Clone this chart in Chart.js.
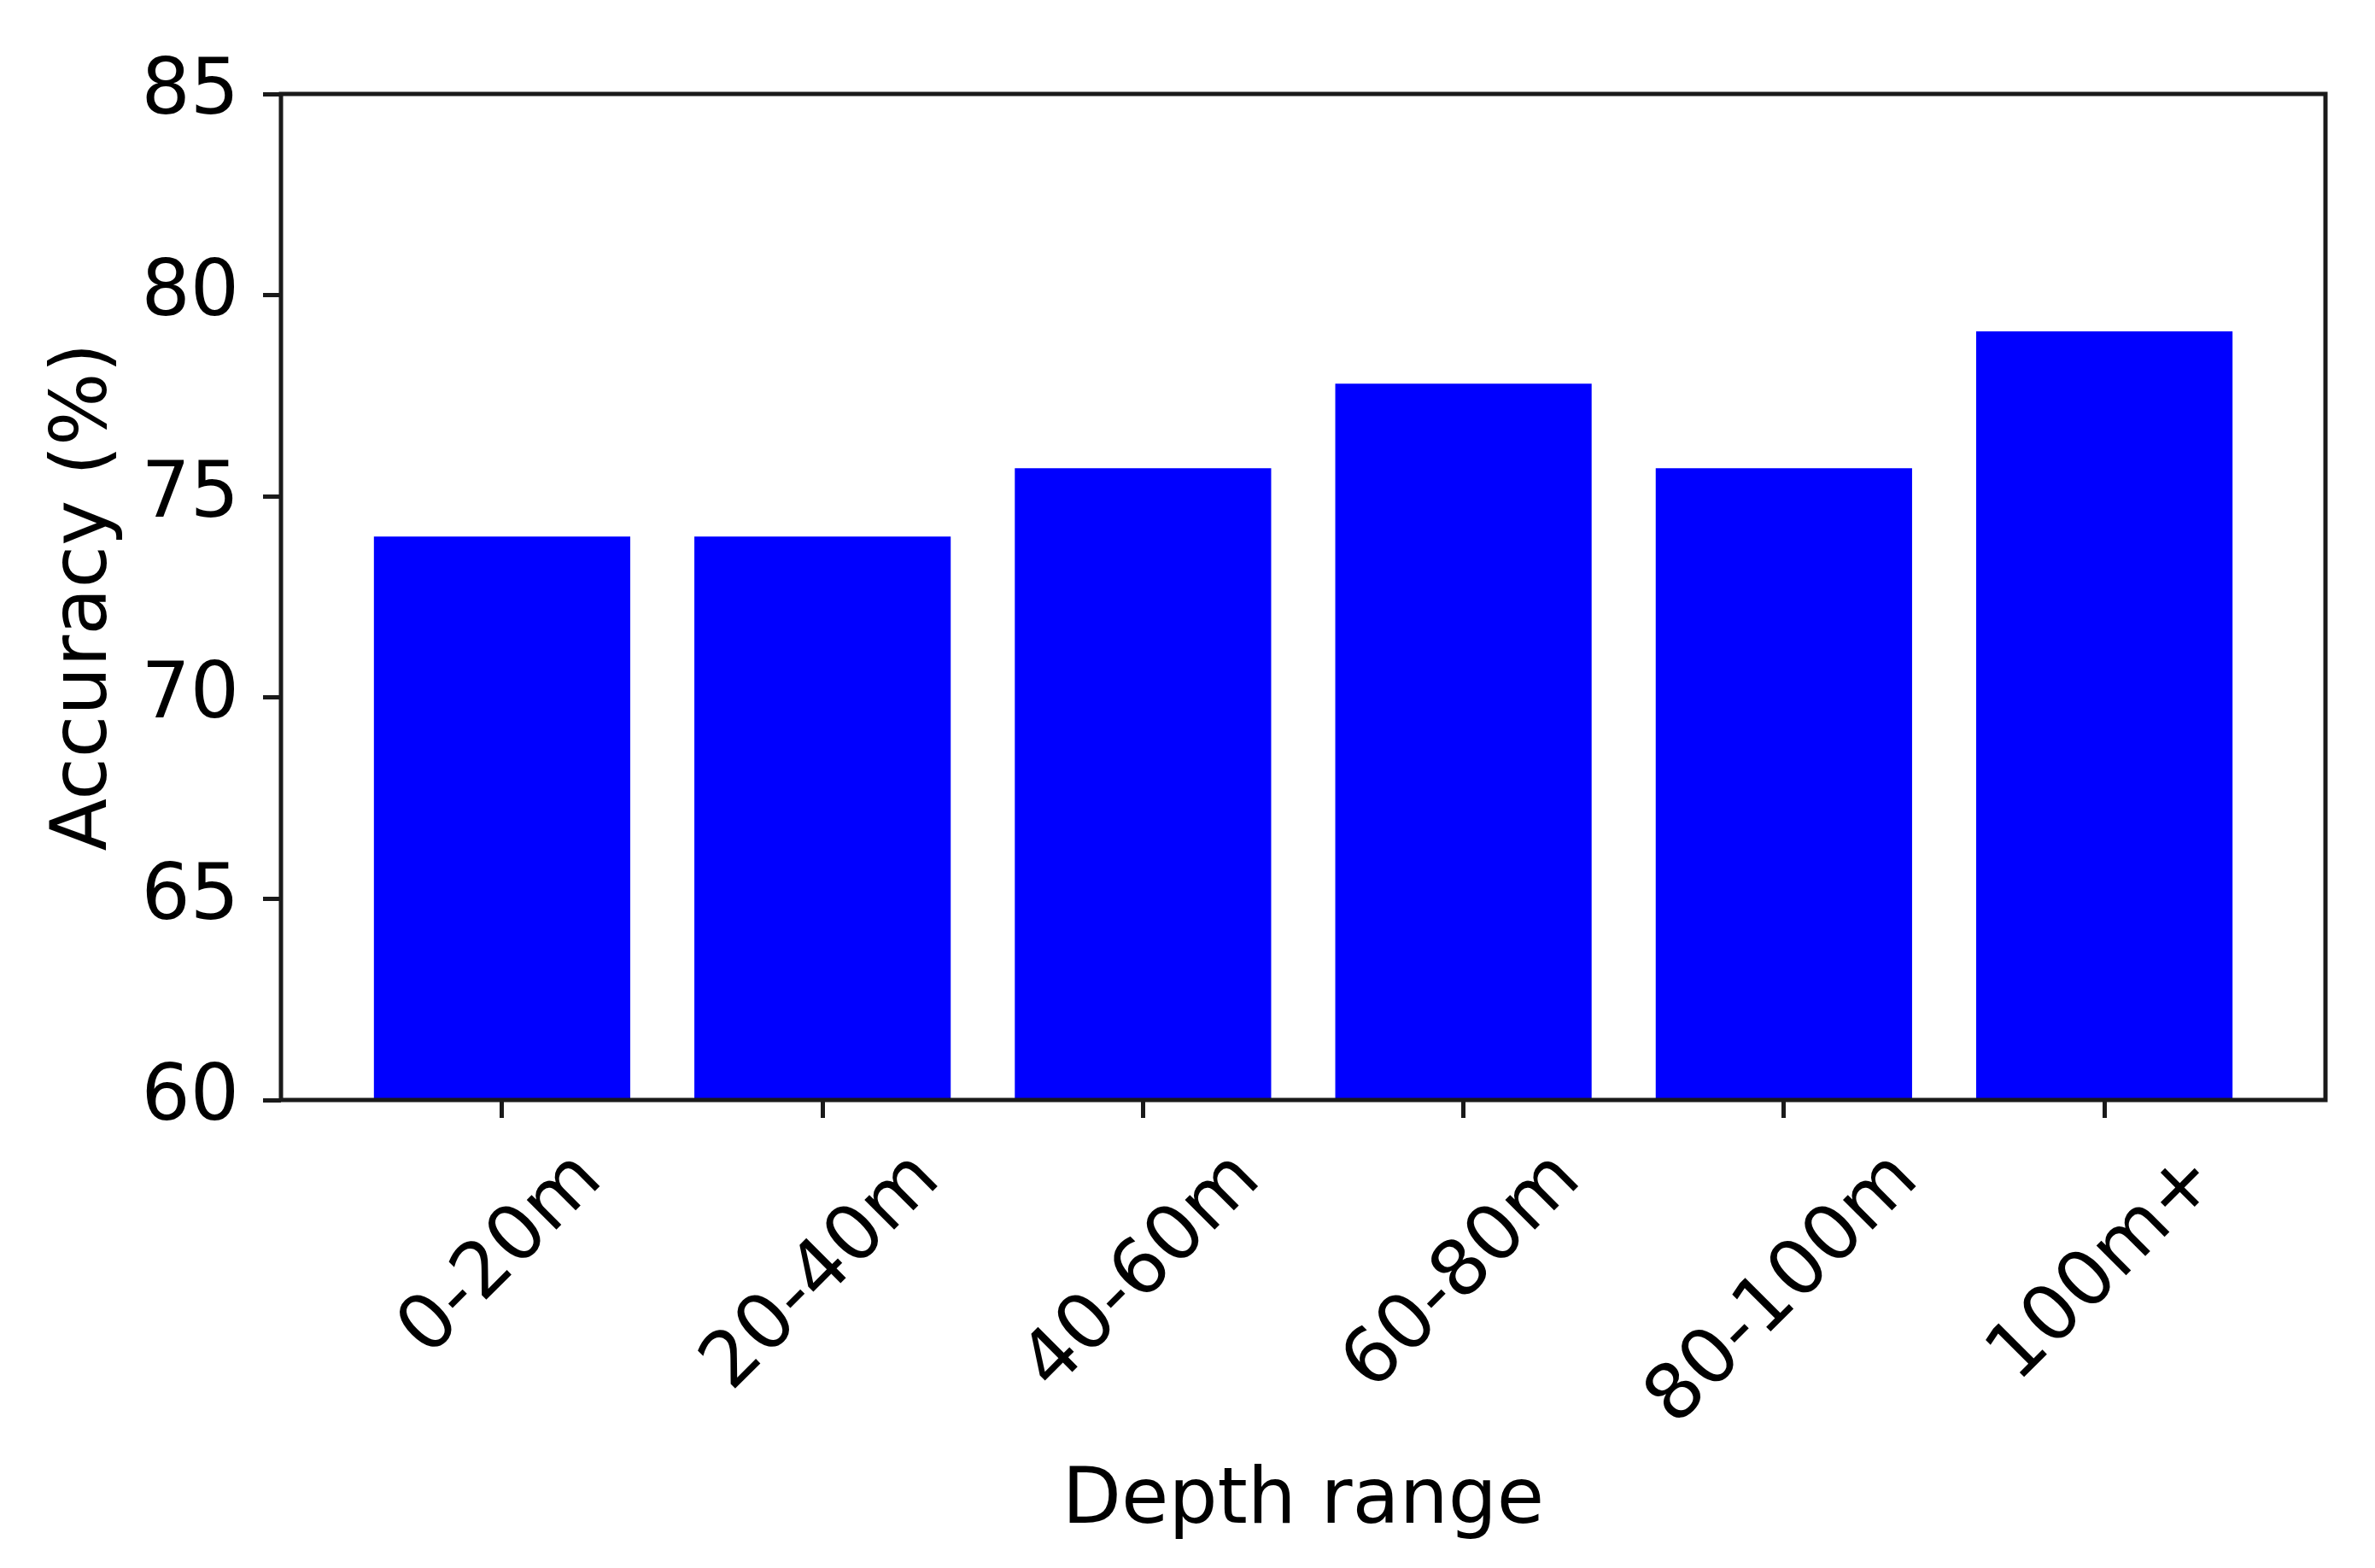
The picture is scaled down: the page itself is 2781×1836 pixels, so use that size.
<!DOCTYPE html>
<html>
<head>
<meta charset="utf-8">
<script src="https://cdn.jsdelivr.net/npm/chart.js@4.4.1/dist/chart.umd.min.js"></script>
<style>
  html, body { margin: 0; padding: 0; background: #fff; }
  #wrap { width: 2781px; height: 1836px; }
</style>
</head>
<body>
<div id="wrap"><canvas id="depth-chart"></canvas></div>
<script>
const depthRanges = ['0-20m', '20-40m', '40-60m', '60-80m', '80-100m', '100m+'];
const accuracy = [74.0, 74.0, 75.7, 77.8, 75.7, 79.1];
const yTicks = [60, 65, 70, 75, 80, 85];
const xTitle = 'Depth range';
const yTitle = 'Accuracy (%)';

const FONT = '"DejaVu Sans", sans-serif';
const FS = 90;
const TICK_LEN = 21;
const TICK_PAD = 21;
const LINE = 5;
const INK = '#1a1a1a';

// frame + rotated x labels + axis titles, matplotlib style
const textAndFrame = {
    id: 'textAndFrame',
    afterDraw(chart) {
        const c = chart.ctx;
        const area = chart.chartArea;
        const xs = chart.scales.x;
        c.save();
        c.strokeStyle = INK;
        c.lineWidth = LINE;
        c.strokeRect(area.left, area.top, area.right - area.left, area.bottom - area.top);

        c.fillStyle = '#000';
        c.font = FS + 'px ' + FONT;
        const top = area.bottom + TICK_LEN + TICK_PAD;
        const h = FS * 1.164;
        depthRanges.forEach((lab, i) => {
            const x = xs.getPixelForValue(i);
            const w = c.measureText(lab).width;
            const box = (w + h) * Math.SQRT1_2;
            c.save();
            c.translate(x, top + box / 2);
            c.rotate(-Math.PI / 4);
            c.textAlign = 'center';
            c.textBaseline = 'middle';
            c.fillText(lab, 0, 0);
            c.restore();
        });

        c.textAlign = 'center';
        c.textBaseline = 'alphabetic';
        c.fillText(xTitle, (area.left + area.right) / 2, 1783);

        c.save();
        c.translate(124, (area.top + area.bottom) / 2);
        c.rotate(-Math.PI / 2);
        c.fillText(yTitle, 0, 0);
        c.restore();
        c.restore();
    }
};

const ctx = document.getElementById('depth-chart');

new Chart(ctx, {
    type: 'bar',
    data: {
        datasets: [{
            label: yTitle,
            data: accuracy.map((v, i) => ({x: i, y: v})),
            backgroundColor: '#0000ff',
            borderWidth: 0,
            barPercentage: 0.8,
            categoryPercentage: 1.0
        }]
    },
    options: {
        responsive: true,
        maintainAspectRatio: false,
        animation: false,
        layout: {padding: {left: 0, right: 58, top: 110, bottom: 0}},
        plugins: {legend: {display: false}, tooltip: {enabled: false}},
        scales: {
            x: {
                type: 'linear',
                min: -0.69,
                max: 5.69,
                offset: false,
                afterBuildTicks: axis => { axis.ticks = depthRanges.map((d, i) => ({value: i})); },
                afterFit: axis => { axis.height = 1836 - 1288; },
                ticks: {display: false},
                grid: {
                    offset: false,
                    drawOnChartArea: false,
                    drawTicks: true,
                    tickLength: TICK_LEN,
                    lineWidth: LINE,
                    color: INK
                },
                border: {display: false}
            },
            y: {
                min: 60,
                max: 85,
                afterBuildTicks: axis => { axis.ticks = yTicks.map(v => ({value: v})); },
                afterFit: axis => { axis.width = 329; },
                ticks: {
                    padding: 28,
                    color: '#000',
                    font: {family: FONT, size: FS}
                },
                grid: {
                    drawOnChartArea: false,
                    drawTicks: true,
                    tickLength: TICK_LEN,
                    lineWidth: LINE,
                    color: INK
                },
                border: {display: false}
            }
        }
    },
    plugins: [textAndFrame]
});
</script>
</body>
</html>
